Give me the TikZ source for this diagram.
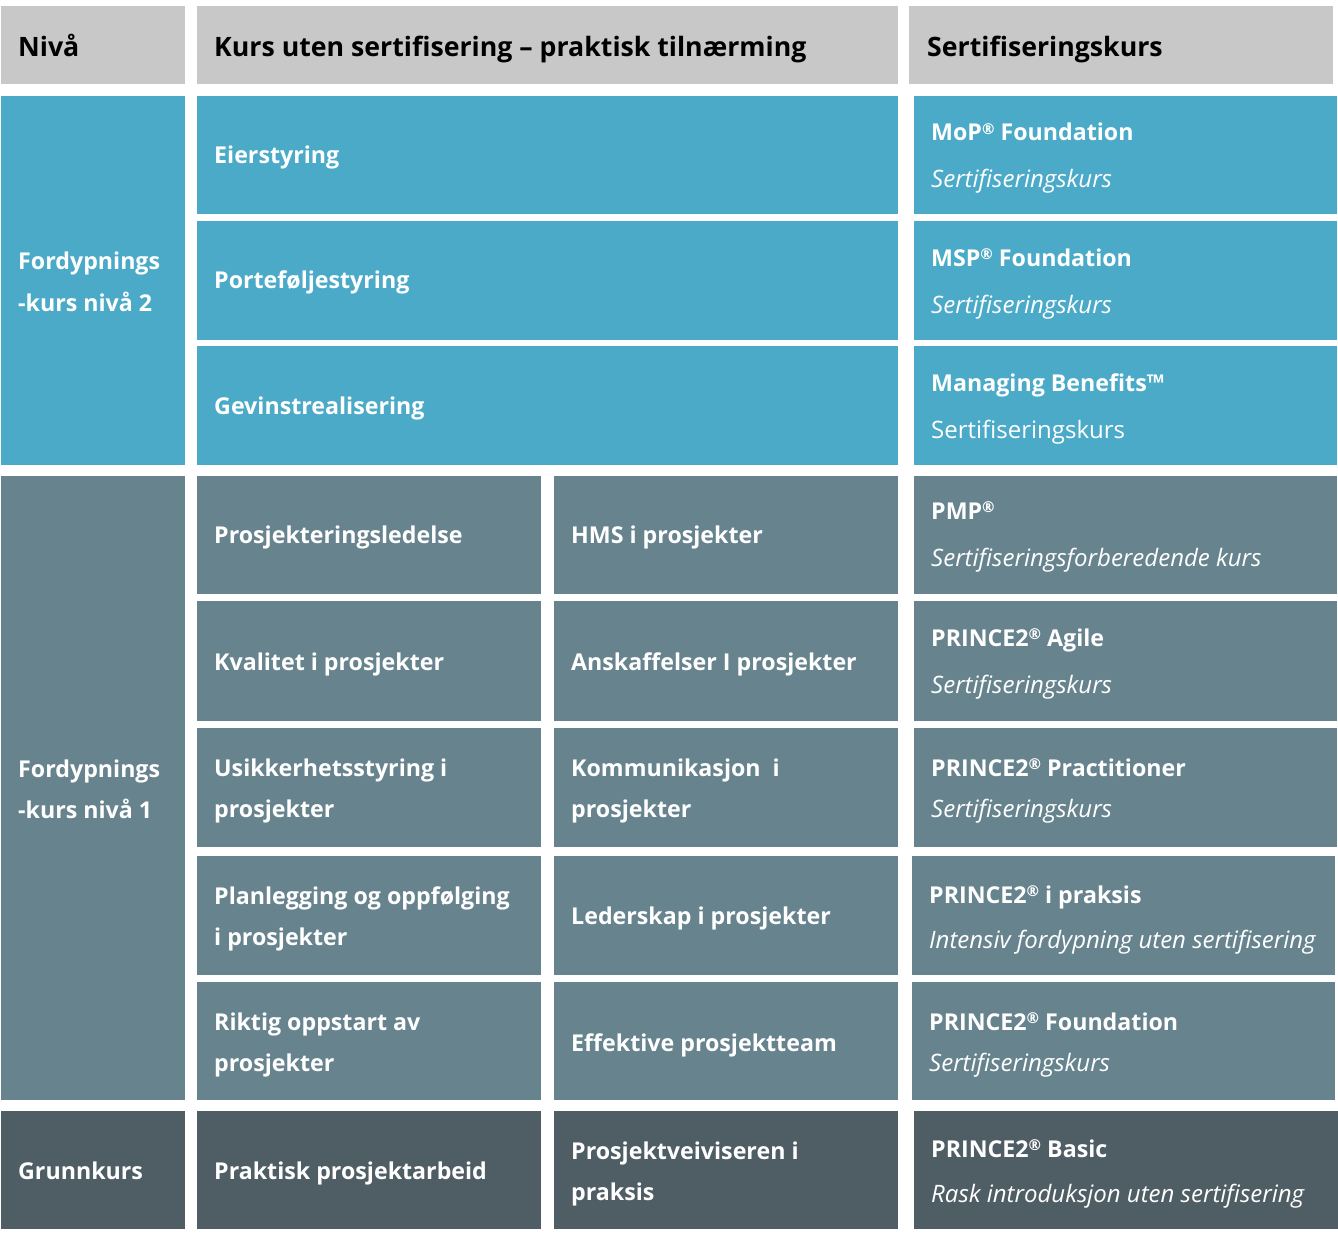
\documentclass[tikz,border=0pt]{standalone}
\usepackage{fontspec}
\setmainfont{Open Sans}
\usetikzlibrary{positioning}
\definecolor{hodegraa}{HTML}{C8C8C8}
\definecolor{nivatobla}{HTML}{4BAAC8}
\definecolor{nivaengra}{HTML}{67848E}
\definecolor{grunnmork}{HTML}{4F5E65}
\newcommand{\reg}{{\fontsize{15}{15}\selectfont\raisebox{6.5pt}{®}}}
\tikzset
{
    cell/.style     = {rectangle, inner sep=0pt, anchor=north west},
    head/.style     = {cell, fill=hodegraa},
    nivato/.style   = {cell, fill=nivatobla},
    nivaen/.style   = {cell, fill=nivaengra},
    grunn/.style    = {cell, fill=grunnmork},
    headtext/.style = {anchor=base west, inner sep=0pt, text=black, font=\fontsize{26.7}{32}\selectfont\bfseries},
    celltext/.style = {anchor=base west, inner sep=0pt, text=white, font=\fontsize{23.2}{28}\selectfont\bfseries},
    subtext/.style  = {anchor=base west, inner sep=0pt, text=white, font=\fontsize{24}{29}\selectfont\itshape},
    plaintext/.style= {anchor=base west, inner sep=0pt, text=white, font=\fontsize{24}{29}\selectfont},
}
\begin{document}
\begin{tikzpicture}[x=1pt, y=-1pt]
	\useasboundingbox (0,0) rectangle (1338,1233);
	% header
	\node (hniva) [head, minimum width=184pt, minimum height=78pt] at (1,6) {};
	\node (hkurs) [head, minimum width=701pt, minimum height=78pt] at (197,6) {};
	\node (hsert) [head, minimum width=424pt, minimum height=78pt] at (909,6) {};
	\node (thniva) [headtext] at (18,57) {Nivå};
	\node (thkurs) [headtext] at (214,57) {Kurs uten sertifisering – praktisk tilnærming};
	\node (thsert) [headtext] at (927,57) {Sertifiseringskurs};

	% nivaa 2
	\node (niva2) [nivato, minimum width=184pt, minimum height=369pt] at (1,96) {};
	\node (eier)  [nivato, minimum width=701pt, minimum height=118pt] at (197,96) {};
	\node (port)  [nivato, minimum width=701pt, minimum height=119pt] at (197,221) {};
	\node (gevin) [nivato, minimum width=701pt, minimum height=119pt] at (197,346) {};
	\node (mop)   [nivato, minimum width=423pt, minimum height=118pt] at (914,96) {};
	\node (msp)   [nivato, minimum width=423pt, minimum height=119pt] at (914,221) {};
	\node (mb)    [nivato, minimum width=423pt, minimum height=119pt] at (914,346) {};
	\node (tniva2a) [celltext] at (18,270) {Fordypnings};
	\node (tniva2b) [celltext] at (18,311) {-kurs nivå 2};
	\node (teier)  [celltext] at (214,164) {Eierstyring};
	\node (tport)  [celltext] at (214,289) {Porteføljestyring};
	\node (tgevin) [celltext] at (214,414) {Gevinstrealisering};
	\node (tmop)   [celltext] at (931,141) {MoP\reg{} Foundation};
	\node (smop)   [subtext]  at (931,188) {Sertifiseringskurs};
	\node (tmsp)   [celltext] at (931,266) {MSP\reg{} Foundation};
	\node (smsp)   [subtext]  at (931,313) {Sertifiseringskurs};
	\node (tmb)    [celltext] at (931,391) {Managing Benefits™};
	\node (smb)    [plaintext] at (931,438) {Sertifiseringskurs};

	% nivaa 1
	\node (niva1) [nivaen, minimum width=184pt, minimum height=624pt] at (1,476) {};
	\node (prosj) [nivaen, minimum width=344pt, minimum height=118pt] at (197,476) {};
	\node (hms)   [nivaen, minimum width=344pt, minimum height=118pt] at (554,476) {};
	\node (pmp)   [nivaen, minimum width=423pt, minimum height=118pt] at (914,476) {};
	\node (kval)  [nivaen, minimum width=344pt, minimum height=120pt] at (197,601) {};
	\node (ansk)  [nivaen, minimum width=344pt, minimum height=120pt] at (554,601) {};
	\node (agile) [nivaen, minimum width=423pt, minimum height=120pt] at (914,601) {};
	\node (usikk) [nivaen, minimum width=344pt, minimum height=119pt] at (197,728) {};
	\node (komm)  [nivaen, minimum width=344pt, minimum height=119pt] at (554,728) {};
	\node (pract) [nivaen, minimum width=423pt, minimum height=119pt] at (914,728) {};
	\node (plan)  [nivaen, minimum width=344pt, minimum height=119pt] at (197,856) {};
	\node (leder) [nivaen, minimum width=344pt, minimum height=119pt] at (554,856) {};
	\node (praks) [nivaen, minimum width=423pt, minimum height=119pt] at (912,856) {};
	\node (rikt)  [nivaen, minimum width=344pt, minimum height=118pt] at (197,982) {};
	\node (effek) [nivaen, minimum width=344pt, minimum height=118pt] at (554,982) {};
	\node (found) [nivaen, minimum width=423pt, minimum height=118pt] at (912,982) {};
	\node (tniva1a) [celltext] at (18,777) {Fordypnings};
	\node (tniva1b) [celltext] at (18,818) {-kurs nivå 1};
	\node (tprosj) [celltext] at (214,543) {Prosjekteringsledelse};
	\node (thms)   [celltext] at (571,543) {HMS i prosjekter};
	\node (tpmp)   [celltext] at (931,519) {PMP\reg};
	\node (spmp)   [subtext]  at (931,566) {Sertifiseringsforberedende kurs};
	\node (tkval)  [celltext] at (214,670) {Kvalitet i prosjekter};
	\node (tansk)  [celltext] at (571,670) {Anskaffelser I prosjekter};
	\node (tagile) [celltext] at (931,646) {PRINCE2\reg{} Agile};
	\node (sagile) [subtext]  at (931,693) {Sertifiseringskurs};
	\node (tusikka) [celltext] at (214,776) {Usikkerhetsstyring i};
	\node (tusikkb) [celltext] at (214,817) {prosjekter};
	\node (tkomma) [celltext] at (571,776) {Kommunikasjon\ \ i};
	\node (tkommb) [celltext] at (571,817) {prosjekter};
	\node (tpract) [celltext] at (931,776) {PRINCE2\reg{} Practitioner};
	\node (spract) [subtext]  at (931,817) {Sertifiseringskurs};
	\node (tplana) [celltext] at (214,904) {Planlegging og oppfølging};
	\node (tplanb) [celltext] at (214,945) {i prosjekter};
	\node (tleder) [celltext] at (571,924) {Lederskap i prosjekter};
	\node (tpraks) [celltext] at (929,903) {PRINCE2\reg{} i praksis};
	\node (spraks) [subtext]  at (929,948) {Intensiv fordypning uten sertifisering};
	\node (trikta) [celltext] at (214,1030) {Riktig oppstart av};
	\node (triktb) [celltext] at (214,1071) {prosjekter};
	\node (teffek) [celltext] at (571,1051) {Effektive prosjektteam};
	\node (tfound) [celltext] at (929,1030) {PRINCE2\reg{} Foundation};
	\node (sfound) [subtext]  at (929,1071) {Sertifiseringskurs};

	% grunnkurs
	\node (grunnk) [grunn, minimum width=184pt, minimum height=118pt] at (1,1111) {};
	\node (prakt)  [grunn, minimum width=344pt, minimum height=118pt] at (197,1111) {};
	\node (veiv)   [grunn, minimum width=344pt, minimum height=118pt] at (554,1111) {};
	\node (basic)  [grunn, minimum width=424pt, minimum height=118pt] at (914,1111) {};
	\node (tgrunnk) [celltext] at (18,1179) {Grunnkurs};
	\node (tprakt)  [celltext] at (214,1179) {Praktisk prosjektarbeid};
	\node (tveiva)  [celltext] at (571,1159) {Prosjektveiviseren i};
	\node (tveivb)  [celltext] at (571,1200) {praksis};
	\node (tbasic)  [celltext] at (931,1157) {PRINCE2\reg{} Basic};
	\node (sbasic)  [subtext]  at (931,1202) {Rask introduksjon uten sertifisering};
\end{tikzpicture}
\end{document}
